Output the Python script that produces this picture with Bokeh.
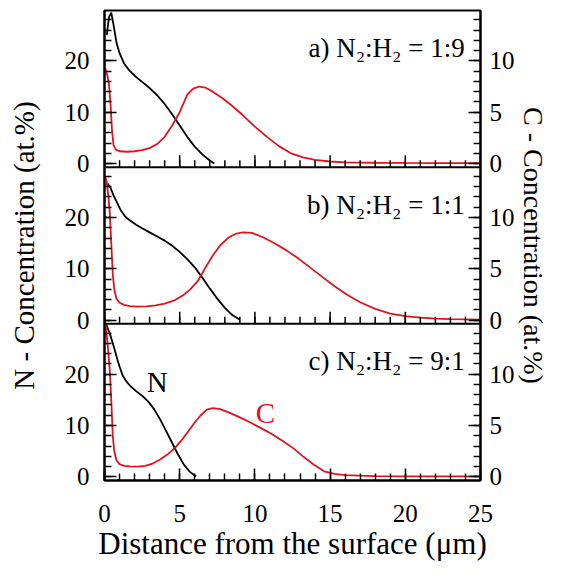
import math
from bokeh.plotting import figure
from bokeh.models import Range1d, LinearAxis, FixedTicker, Span, Label
from bokeh.embed import file_html
from bokeh.resources import INLINE

# ---------------- data ----------------
# panel a) N2:H2 = 1:9
xN_a = [0.15, 0.3, 0.45, 0.6, 0.8, 1.0, 1.3, 1.6, 2.0, 2.5, 3.0, 3.5, 4.0, 4.5, 5.0, 5.5, 6.0, 6.5, 7.0, 7.3]
N_a = [25.0, 28.5, 29.4, 27.0, 23.5, 21.5, 19.5, 18.3, 17.1, 15.9, 14.7, 13.3, 11.6, 9.6, 7.4, 5.2, 3.3, 1.8, 0.6, 0.0]
xC_a = [0.05, 0.2, 0.3, 0.4, 0.5, 0.6, 0.75, 1.0, 1.5, 2.0, 2.5, 3.0, 3.5, 4.0, 4.5, 5.0, 5.5, 5.9, 6.3, 6.7,
        7.2, 7.8, 8.5, 9.2, 10.0, 10.8, 11.6, 12.4, 13.2, 14.0, 15.0, 16.0, 18.0, 20.0, 22.0, 25.0]
C_a = [9.3, 8.5, 7.7, 5.8, 3.2, 1.8, 1.35, 1.2, 1.15, 1.2, 1.3, 1.5, 1.9, 2.6, 3.7, 5.0, 6.7, 7.3, 7.5, 7.4,
       7.0, 6.4, 5.6, 4.7, 3.6, 2.6, 1.7, 1.0, 0.6, 0.35, 0.2, 0.12, 0.08, 0.06, 0.05, 0.05]

# panel b) N2:H2 = 1:1
xN_b = [0.2, 0.4, 0.6, 0.85, 1.1, 1.4, 1.7, 2.1, 2.5, 3.0, 3.5, 4.0, 4.5, 5.0, 5.5, 6.0, 6.5, 7.0, 7.5, 8.0, 8.5, 9.0]
N_b = [26.6, 25.8, 24.3, 22.8, 21.3, 20.1, 19.4, 18.6, 17.9, 17.1, 16.3, 15.5, 14.5, 13.3, 11.9, 10.3, 8.3, 6.2, 4.2, 2.4, 1.0, 0.1]
xC_b = [0.05, 0.15, 0.25, 0.35, 0.45, 0.55, 0.65, 0.8, 1.0, 1.3, 1.7, 2.2, 2.8, 3.4, 4.0, 4.6, 5.2, 5.7, 6.2, 6.7,
        7.2, 7.7, 8.2, 8.7, 9.2, 9.8, 10.5, 11.3, 12.1, 12.9, 13.7, 14.5, 15.3, 16.1, 17.0, 18.0, 19.0, 20.0,
        21.0, 22.0, 23.0, 25.0]
C_b = [14.0, 13.4, 12.2, 10.5, 7.5, 4.5, 3.0, 2.1, 1.7, 1.5, 1.38, 1.33, 1.35, 1.45, 1.62, 1.9, 2.4, 3.0, 3.8, 5.1,
       6.3, 7.3, 8.0, 8.4, 8.55, 8.5, 8.1, 7.5, 6.8, 6.0, 5.1, 4.2, 3.3, 2.5, 1.75, 1.1, 0.65, 0.4,
       0.25, 0.15, 0.1, 0.06]

# panel c) N2:H2 = 9:1
xN_c = [0.1, 0.25, 0.4, 0.55, 0.7, 0.85, 1.0, 1.2, 1.45, 1.75, 2.1, 2.5, 2.9, 3.3, 3.7, 4.1, 4.5, 4.9, 5.3, 5.7, 6.1]
N_c = [29.8, 28.7, 27.5, 26.0, 24.5, 22.9, 21.5, 19.8, 18.6, 17.6, 16.7, 15.8, 14.7, 13.2, 11.2, 8.9, 6.6, 4.3, 2.3, 0.9, 0.1]
xC_c = [0.05, 0.15, 0.25, 0.35, 0.45, 0.55, 0.65, 0.8, 1.0, 1.3, 1.7, 2.2, 2.7, 3.2, 3.7, 4.2, 4.7, 5.2, 5.6, 6.0,
        6.4, 6.8, 7.2, 7.7, 8.3, 9.0, 9.7, 10.4, 11.1, 11.8, 12.5, 13.2, 13.9, 14.6, 15.3, 16.0, 17.0, 18.0,
        20.0, 22.0, 25.0]
C_c = [15.0, 13.8, 12.2, 10.4, 7.5, 4.0, 2.5, 1.6, 1.25, 1.08, 1.02, 1.0, 1.08, 1.3, 1.7, 2.2, 2.85, 3.7, 4.5, 5.3,
       6.0, 6.55, 6.7, 6.6, 6.25, 5.8, 5.3, 4.75, 4.2, 3.55, 2.85, 2.0, 1.2, 0.55, 0.3, 0.18, 0.12, 0.08,
       0.06, 0.05, 0.05]

titles = {"a": "a) N\u2082:H\u2082 = 1:9", "b": "b) N\u2082:H\u2082 = 1:1", "c": "c) N\u2082:H\u2082 = 9:1"}

x_major = [0, 5, 10, 15, 20, 25]
x_minor = list(range(0, 26))
N_major = [0, 10, 20]
N_minor = list(range(0, 30, 2))
C_major = [0, 5, 10]
C_minor = list(range(0, 15))

# ---------------- layout of stacked panels ----------------
N_LO, N_HI = -0.7, 29.8
S = N_HI - N_LO          # span of one panel in N units
FONT = "Liberation Serif"
RED = "#e3121c"

p = figure(width=551, height=564, x_range=Range1d(0, 25),
           y_range=Range1d(N_LO, N_LO + 3 * S),
           output_backend="svg", toolbar_location=None,
           min_border_left=104, min_border_right=69, min_border_top=10, min_border_bottom=84)
p.grid.visible = False
p.background_fill_color = "white"
p.border_fill_color = "white"
p.outline_line_color = "black"
p.outline_line_width = 2

panels = [
    ("a", 2, xN_a, N_a, xC_a, C_a),
    ("b", 1, xN_b, N_b, xC_b, C_b),
    ("c", 0, xN_c, N_c, xC_c, C_c),
]

for name, k, xn, yn, xc, yc in panels:
    p.extra_y_ranges["N" + name] = Range1d(N_LO - k * S, N_LO + (3 - k) * S)
    p.extra_y_ranges["C" + name] = Range1d((N_LO - k * S) / 2, (N_LO + (3 - k) * S) / 2)
p.extra_y_ranges["Cu"] = Range1d(N_LO / 2, (N_LO + 3 * S) / 2)

for name, k, xn, yn, xc, yc in panels:
    p.line(xn, yn, y_range_name="N" + name, line_color="black", line_width=1.8)
    p.line(xc, yc, y_range_name="C" + name, line_color=RED, line_width=1.8)
    p.add_layout(Label(x=23.95, y=22.5, y_range_name="N" + name, text=titles[name],
                       text_align="right", text_baseline="alphabetic",
                       text_font=FONT, text_font_size="27px", text_color="black"))
    if name != "c":
        p.add_layout(Span(location=N_LO, dimension="width", y_range_name="N" + name,
                          line_color="black", line_width=2))
        p.ray(x=x_major, y=[N_LO] * len(x_major), y_range_name="N" + name, length=12,
              length_units="screen", angle=math.pi / 2, line_color="black", line_width=1.5)
        p.ray(x=x_minor, y=[N_LO] * len(x_minor), y_range_name="N" + name, length=7,
              length_units="screen", angle=math.pi / 2, line_color="black", line_width=1.5)

p.add_layout(Label(x=3.5, y=18.5, y_range_name="Nc", text="N", text_align="center",
                   text_baseline="middle", text_font=FONT, text_font_size="29px", text_color="black"))
p.add_layout(Label(x=10.7, y=6.2, y_range_name="Cc", text="C", text_align="center",
                   text_baseline="middle", text_font=FONT, text_font_size="29px", text_color=RED))


def style(ax, label, size):
    ax.axis_label = label
    ax.axis_label_text_font = FONT
    ax.axis_label_text_font_size = size
    ax.axis_label_text_font_style = "normal"
    ax.axis_label_text_color = "black"
    ax.major_label_text_font = FONT
    ax.major_label_text_font_size = "25px"
    ax.major_label_text_color = "black"
    ax.axis_line_color = "black"
    ax.axis_line_width = 2
    ax.major_tick_in = 12
    ax.major_tick_out = 0
    ax.minor_tick_in = 7
    ax.minor_tick_out = 0
    ax.major_tick_line_width = 1.5
    ax.minor_tick_line_width = 1.5
    ax.major_tick_line_color = "black"
    ax.minor_tick_line_color = "black"


# bottom x axis
xa = p.xaxis[0]
xa.ticker = FixedTicker(ticks=x_major, minor_ticks=x_minor)
style(xa, "Distance from the surface (\u03bcm)", "31px")
xa.major_label_standoff = 24
xa.axis_label_standoff = 1

# left N axis (unified over the three panels)
n_ticks, n_minor, n_over = [], [], {}
for name, k, *_ in panels:
    for t in N_major:
        v = t + k * S
        n_ticks.append(v)
        n_over[v] = str(t)
    n_minor += [t + k * S for t in N_minor]
ya = p.yaxis[0]
ya.ticker = FixedTicker(ticks=n_ticks, minor_ticks=n_minor)
ya.major_label_overrides = n_over
style(ya, "N - Concentration (at.%)", "29px")
ya.major_label_standoff = 15
ya.axis_label_standoff = 22

# right C axis (unified over the three panels)
c_ticks, c_minor, c_over = [], [], {}
for name, k, *_ in panels:
    for t in C_major:
        v = t + k * S / 2
        c_ticks.append(v)
        c_over[v] = str(t)
    c_minor += [t + k * S / 2 for t in C_minor]
ra = LinearAxis(y_range_name="Cu", ticker=FixedTicker(ticks=c_ticks, minor_ticks=c_minor))
ra.major_label_overrides = c_over
style(ra, "C - Concentration (at.%)", "28px")
ra.major_label_standoff = 9
ra.axis_label_standoff = 0
ra.major_label_orientation = "horizontal"
p.add_layout(ra, "right")

open("out.html", "w").write(file_html(p, INLINE))
